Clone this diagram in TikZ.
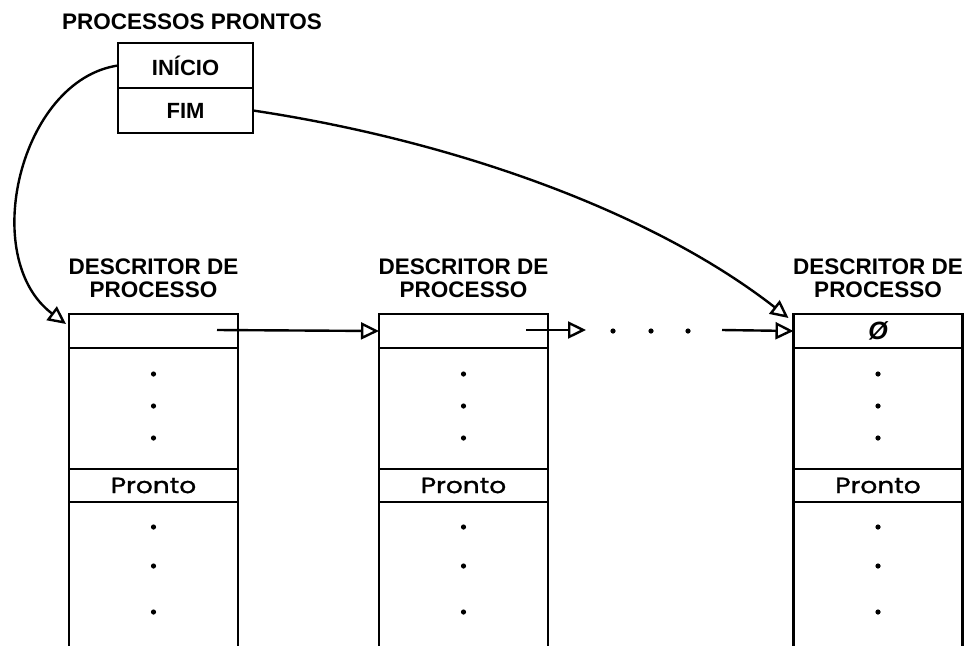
\documentclass[tikz,border=0pt]{standalone}
\usepackage{fontspec}
\setmainfont{Liberation Sans}
\newfontfamily\lblfont{Liberation Sans}[FakeStretch=1.0]
\newfontfamily\prfont{Poppins}[FakeStretch=1.2,FakeBold=1.2]
\usetikzlibrary{arrows.meta}
\begin{document}
\begin{tikzpicture}[x=1pt,y=-1pt,
  line width=2.4pt,
  lbl/.style={font=\lblfont\bfseries\fontsize{22.5}{23}\selectfont, inner sep=0pt, align=center},
  cell/.style={draw, minimum width=169pt, minimum height=34pt, inner sep=0pt, outer sep=0pt},
  qcell/.style={draw, minimum width=135pt, minimum height=45pt, inner sep=0pt, outer sep=0pt, font=\lblfont\bfseries\fontsize{22}{23}\selectfont},
  prcell/.style={draw, minimum width=169pt, minimum height=33pt, inner sep=0pt, outer sep=0pt, font=\prfont\fontsize{22}{24}\selectfont},
  tri/.style={-{Triangle[open,length=18pt,width=17pt,line width=2.4pt]}},
  vdot/.style={fill=black}
]
\useasboundingbox (0,0) rectangle (969,646);
\coordinate (bot) at (0,646);

% queue header
\node[lbl] (title) at (192,22) {PROCESSOS PRONTOS};
\node[qcell] (inicio) at (185.5,65.5) {INÍCIO};
\node[qcell] (fim) at (185.5,110.5) {FIM};

% descriptors
\foreach \i/\cx in {1/153.5, 2/463.5, 3/878} {
  \node[lbl] (lab\i) at (\cx,278.5) {DESCRITOR DE\\PROCESSO};
  \node[cell] (c\i) at (\cx,331) {};
  \node[prcell] (pr\i) at (\cx,485.5) {Pronto};
  \draw (c\i.south west) -- (c\i.south west |- bot);
  \draw (c\i.south east) -- (c\i.south east |- bot);
  \foreach \y in {374,406,438,527,566,612}
    \fill[vdot] (\cx,\y) circle (2.6pt);
}
\node[font=\lblfont\bfseries\itshape\fontsize{25}{25}\selectfont] (nil) at (c3.center) {Ø};

% links
\coordinate (s1) at (217,330);
\coordinate (s2) at (526,330);
\coordinate (e2) at (586,330);
\coordinate (s3) at (722,330);
\draw[tri] (s1) -- (c2.west);
\draw[tri] (s2) -- (e2);
\draw[tri] (s3) -- (c3.west);
\foreach \x in {613,651,688}
  \fill[vdot] (\x,331) circle (2.6pt);

% curves
\coordinate (t1) at ([shift={(-3,10)}]c1.north west);
\coordinate (t3) at ([shift={(-5,4)}]c3.north west);
\draw[tri] (inicio.west) .. controls (20,80) and (-22,258) .. (t1);
\draw[tri] (fim.east) .. controls (450,140) and (650,210) .. (t3);
\end{tikzpicture}
\end{document}
